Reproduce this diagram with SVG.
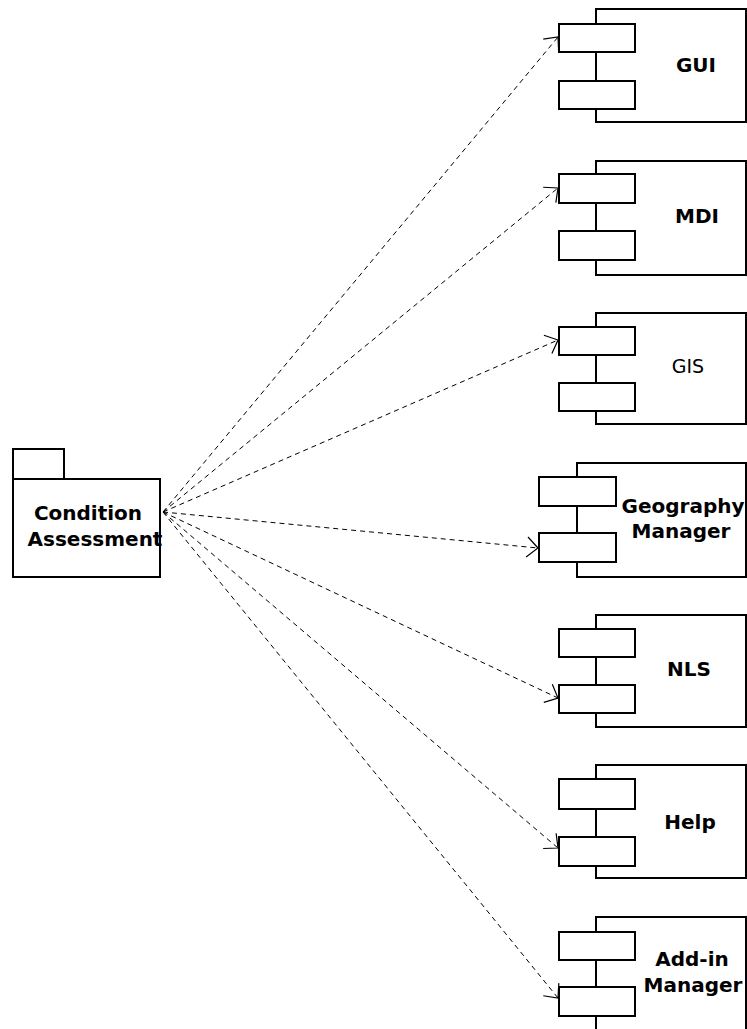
<svg xmlns="http://www.w3.org/2000/svg" width="747" height="1029" viewBox="0 0 747 1029">
  <style>
    .box { fill: #fff; stroke: #000; stroke-width: 2; }
    .dep { fill: none; stroke: #000; stroke-width: 1; stroke-dasharray: 5 4; marker-end: url(#open); }
    .lbl { font-family: "DejaVu Sans", Verdana, sans-serif; font-weight: bold; font-size: 20px; text-anchor: middle; fill: #000; }
    .plain { font-weight: normal; font-size: 19px; }
  </style>
  <defs>
    <marker id="open" markerUnits="userSpaceOnUse" viewBox="-16 -16 32 32" markerWidth="32" markerHeight="32" refX="0" refY="0" orient="auto" overflow="visible">
      <path d="M -11 -10 L 0 0 L -11 10" fill="none" stroke="#000" stroke-width="1.2" stroke-dasharray="none"/>
    </marker>
  </defs>
  <rect width="747" height="1029" fill="#fff"/>

  <!-- package -->
  <g id="condition-assessment">
    <rect class="box" x="13" y="449" width="51" height="30"/>
    <rect class="box" x="13" y="479" width="147" height="98"/>
    <text class="lbl" x="88" y="520">Condition</text>
    <text class="lbl" x="95" y="546">Assessment</text>
  </g>

  <!-- dependency connectors -->
  <g id="connectors">
    <line class="dep" x1="163" y1="512" x2="558" y2="37"/>
    <line class="dep" x1="163" y1="512" x2="558" y2="188"/>
    <line class="dep" x1="163" y1="512" x2="558" y2="340"/>
    <line class="dep" x1="163" y1="512" x2="538" y2="548"/>
    <line class="dep" x1="163" y1="512" x2="558" y2="698"/>
    <line class="dep" x1="163" y1="512" x2="558" y2="848"/>
    <line class="dep" x1="163" y1="512" x2="558" y2="998"/>
  </g>

  <!-- components -->
  <g id="gui">
    <rect class="box" x="596" y="9" width="150" height="113"/>
    <rect class="box" x="559" y="24" width="76" height="28"/>
    <rect class="box" x="559" y="81" width="76" height="28"/>
    <text class="lbl" x="696" y="72">GUI</text>
  </g>
  <g id="mdi">
    <rect class="box" x="596" y="161" width="150" height="114"/>
    <rect class="box" x="559" y="174" width="76" height="29"/>
    <rect class="box" x="559" y="231" width="76" height="29"/>
    <text class="lbl" x="697" y="223">MDI</text>
  </g>
  <g id="gis">
    <rect class="box" x="596" y="313" width="150" height="111"/>
    <rect class="box" x="559" y="327" width="76" height="28"/>
    <rect class="box" x="559" y="383" width="76" height="28"/>
    <text class="lbl plain" x="688" y="373">GIS</text>
  </g>
  <g id="geography-manager">
    <rect class="box" x="577" y="463" width="169" height="114"/>
    <rect class="box" x="539" y="477" width="77" height="29"/>
    <rect class="box" x="539" y="533" width="77" height="29"/>
    <text class="lbl" x="683" y="513">Geography</text>
    <text class="lbl" x="681" y="538">Manager</text>
  </g>
  <g id="nls">
    <rect class="box" x="596" y="615" width="150" height="112"/>
    <rect class="box" x="559" y="629" width="76" height="28"/>
    <rect class="box" x="559" y="685" width="76" height="28"/>
    <text class="lbl" x="689" y="676">NLS</text>
  </g>
  <g id="help">
    <rect class="box" x="596" y="765" width="150" height="113"/>
    <rect class="box" x="559" y="779" width="76" height="30"/>
    <rect class="box" x="559" y="837" width="76" height="29"/>
    <text class="lbl" x="690" y="829">Help</text>
  </g>
  <g id="add-in-manager">
    <rect class="box" x="596" y="917" width="150" height="130"/>
    <rect class="box" x="559" y="932" width="76" height="28"/>
    <rect class="box" x="559" y="987" width="76" height="29"/>
    <text class="lbl" x="692" y="966">Add-in</text>
    <text class="lbl" x="693" y="992">Manager</text>
  </g>
</svg>
